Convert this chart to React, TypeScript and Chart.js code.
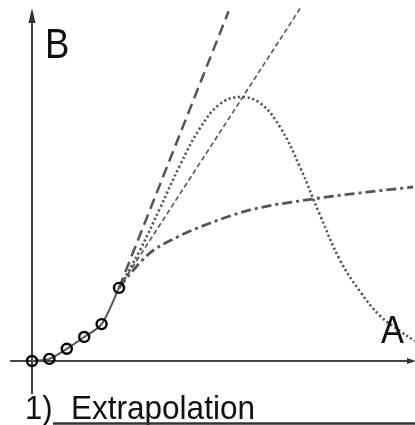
import React, { useEffect, useRef } from "react";
import { Chart, registerables } from "chart.js";

Chart.register(...registerables);

// Sampled measurements (A, B) and the candidate extrapolations beyond the last sample.
const sampleA = [0, 1, 2, 3, 4, 5];
const sampleB = [0, 0.12, 0.7, 1.38, 2.12, 4.2];

// Steep linear extrapolation (long dashes)
const steepA = [5, 11.3];
const steepB = [4.2, 20.1];

// Shallower linear extrapolation (short dashes)
const linearA = [5, 15.46];
const linearB = [4.2, 20.34];

// Peaked extrapolation (dotted)
const peakA = [5.0, 6.21, 7.36, 8.51, 9.66, 10.8, 11.95, 13.1, 14.25, 15.4, 16.55, 17.7, 18.85, 20.0, 21.15, 22.0];
const peakB = [4.2, 6.38, 8.79, 11.26, 13.39, 14.77, 15.17, 14.83, 13.45, 11.15, 8.39, 5.8, 4.0, 2.6, 1.72, 1.15];

// Saturating extrapolation (dash-dot)
const satA = [5, 5.63, 6.78, 8.2, 9.66, 12.53, 16.15, 19.25, 21.9];
const satB = [4.2, 5.0, 6.21, 7.05, 7.7, 8.68, 9.31, 9.71, 10.0];

const axisLabelX = "A";
const axisLabelY = "B";
const panelNumber = "1)";
const panelTitle = "Extrapolation";

const pts = (xs: number[], ys: number[]) => xs.map((x, i) => ({ x, y: ys[i] }));

const W = 415;
const H = 425;

const diagramPlugin = {
  id: "diagram",
  beforeDraw(chart: any) {
    const { ctx } = chart;
    ctx.save();
    ctx.fillStyle = "#ffffff";
    ctx.fillRect(0, 0, chart.width, chart.height);
    ctx.restore();
  },
  beforeDatasetsDraw(chart: any) {
    const { ctx } = chart;
    const xs = chart.scales.x;
    const ys = chart.scales.y;
    const x0 = xs.getPixelForValue(0);
    const y0 = ys.getPixelForValue(0);
    ctx.save();
    ctx.strokeStyle = "#444";
    ctx.fillStyle = "#333";
    ctx.lineWidth = 2;
    // vertical axis
    const yTop = ys.getPixelForValue(20.29);
    const yBot = ys.getPixelForValue(-1.9);
    ctx.beginPath();
    ctx.moveTo(x0, yBot);
    ctx.lineTo(x0, yTop + 8);
    ctx.stroke();
    ctx.beginPath();
    ctx.moveTo(x0, yTop);
    ctx.lineTo(x0 - 3.5, yTop + 15);
    ctx.lineTo(x0 + 3.5, yTop + 15);
    ctx.closePath();
    ctx.fill();
    // horizontal axis
    const xL = xs.getPixelForValue(-1.26);
    const xR = xs.getPixelForValue(22.07);
    ctx.beginPath();
    ctx.moveTo(xL, y0);
    ctx.lineTo(xR - 6, y0);
    ctx.stroke();
    ctx.beginPath();
    ctx.moveTo(xR, y0);
    ctx.lineTo(xR - 9, y0 - 3);
    ctx.lineTo(xR - 9, y0 + 3);
    ctx.closePath();
    ctx.fill();
    ctx.restore();
  },
  afterDraw(chart: any) {
    const { ctx } = chart;
    const xs = chart.scales.x;
    const ys = chart.scales.y;
    const x0 = xs.getPixelForValue(0);
    const y0 = ys.getPixelForValue(0);
    const drawScaled = (text: string, x: number, y: number, size: number, sx: number) => {
      ctx.save();
      ctx.translate(x, y);
      ctx.scale(sx, 1);
      ctx.font = `${size}px "Liberation Sans", Arial, sans-serif`;
      ctx.fillStyle = "#111";
      ctx.textBaseline = "alphabetic";
      ctx.textAlign = "left";
      ctx.fillText(text, 0, 0);
      ctx.restore();
    };
    // axis names
    drawScaled(axisLabelY, x0 + 13, 58, 42, 0.87);
    drawScaled(axisLabelX, 381, y0 - 18, 39, 0.88);
    // panel title
    drawScaled(panelNumber, 25, 419, 33, 0.94);
    drawScaled(panelTitle, 71, 419, 33, 0.955);
    ctx.save();
    ctx.strokeStyle = "#333";
    ctx.lineWidth = 2.5;
    ctx.beginPath();
    ctx.moveTo(53, 423.5);
    ctx.lineTo(W, 423.5);
    ctx.stroke();
    ctx.restore();
  },
};

export default function App() {
  const canvasRef = useRef<HTMLCanvasElement | null>(null);

  useEffect(() => {
    if (!canvasRef.current) return;
    const unit = 17.4;
    const chart = new Chart(canvasRef.current, {
      type: "scatter",
      data: {
        datasets: [
          {
            label: "samples",
            data: pts(sampleA, sampleB),
            showLine: false,
            pointRadius: 5,
            pointBorderWidth: 2.4,
            pointBorderColor: "#000",
            pointBackgroundColor: "rgba(0,0,0,0)",
            order: 0,
          },
          {
            label: "fit",
            data: pts(sampleA, sampleB),
            showLine: true,
            borderColor: "#555",
            borderWidth: 2,
            pointRadius: 0,
            tension: 0.3,
            order: 1,
          },
          {
            label: "steep",
            data: pts(steepA, steepB),
            showLine: true,
            borderColor: "#555",
            borderWidth: 2.5,
            borderDash: [11, 6],
            pointRadius: 0,
            order: 2,
          },
          {
            label: "linear",
            data: pts(linearA, linearB),
            showLine: true,
            borderColor: "#555",
            borderWidth: 1.6,
            borderDash: [5, 3],
            pointRadius: 0,
            order: 3,
          },
          {
            label: "peak",
            data: pts(peakA, peakB),
            showLine: true,
            borderColor: "#555",
            borderWidth: 2.6,
            borderDash: [2.2, 2.6],
            pointRadius: 0,
            tension: 0.4,
            order: 4,
          },
          {
            label: "saturating",
            data: pts(satA, satB),
            showLine: true,
            borderColor: "#555",
            borderWidth: 2.8,
            borderDash: [10, 4, 3, 4],
            pointRadius: 0,
            cubicInterpolationMode: "monotone",
            order: 5,
          },
        ],
      },
      options: {
        responsive: false,
        animation: false,
        devicePixelRatio: 1,
        layout: { padding: 0, autoPadding: false },
        plugins: {
          legend: { display: false },
          tooltip: { enabled: false },
        },
        scales: {
          x: { type: "linear", display: false, min: -32 / unit, max: (W - 32) / unit },
          y: { type: "linear", display: false, min: -(H - 361) / unit, max: 361 / unit },
        },
      },
      plugins: [diagramPlugin],
    } as any);
    return () => chart.destroy();
  }, []);

  return (
    <div style={{ position: "absolute", left: 0, top: 0, width: W, height: H }}>
      <canvas ref={canvasRef} width={W} height={H} style={{ width: W, height: H, display: "block" }} />
    </div>
  );
}
